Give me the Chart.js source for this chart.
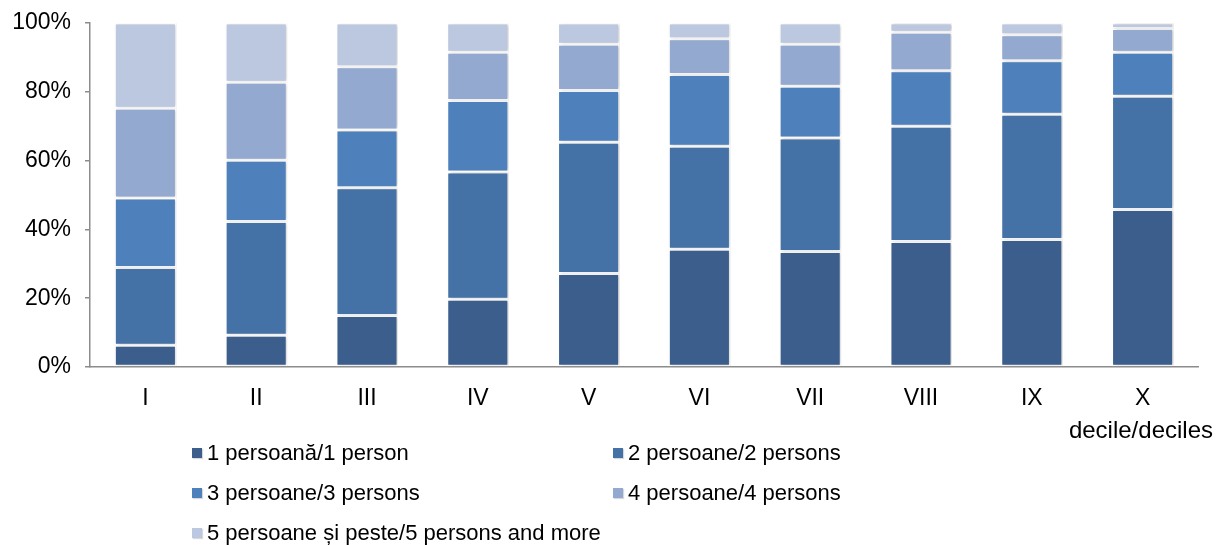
<!DOCTYPE html>
<html>
<head>
<meta charset="utf-8">
<script src="https://cdn.jsdelivr.net/npm/chart.js@4/dist/chart.umd.min.js"></script>
<style>
  html, body { margin: 0; padding: 0; background: #fff; }
  #wrap { position: relative; width: 1217px; height: 545px; font-family: Arial, 'Liberation Sans', sans-serif; }
  #chart { position: absolute; left: 0; top: 0; }
  .axis-title { position: absolute; right: 4px; top: 416px; font-size: 24px; line-height: 28px; color: #000; }
  .legend-item { position: absolute; font-size: 22px; color: #000; white-space: nowrap; line-height: 24px; }
  .legend-item i { display: inline-block; width: 10px; height: 10px; margin-right: 5px; vertical-align: 2px; box-shadow: 1px 1px 1px rgba(0,0,0,0.15); }
</style>
</head>
<body>
<div id="wrap">
  <canvas id="chart" width="1217" height="545"></canvas>
  <div class="axis-title">decile/deciles</div>
  <div id="legend"></div>
</div>
<script>
// decile categories
const deciles = ['I', 'II', 'III', 'IV', 'V', 'VI', 'VII', 'VIII', 'IX', 'X'];
const yTicks = [0, 20, 40, 60, 80, 100];

// share of households by size (%)
const onePerson   = [6.3, 9.2, 15.0, 19.7, 27.2, 34.2, 33.6, 36.5, 37.1, 45.8];
const twoPersons  = [22.6, 33.1, 37.1, 37.0, 38.1, 30.0, 33.0, 33.5, 36.4, 32.9];
const threePersons = [20.2, 17.8, 16.8, 20.8, 15.1, 20.8, 15.0, 16.1, 15.5, 12.8];
const fourPersons = [26.1, 22.7, 18.4, 14.0, 13.4, 10.4, 12.2, 11.2, 7.6, 6.9];
const fivePlus    = [24.8, 17.2, 12.7, 8.5, 6.2, 4.6, 6.2, 2.7, 3.4, 1.6];

const seriesLabels = [
    '1 persoană/1 person',
    '2 persoane/2 persons',
    '3 persoane/3 persons',
    '4 persoane/4 persons',
    '5 persoane și peste/5 persons and more'
];
const seriesColors = ['#3b5e8c', '#4472a6', '#4e80bc', '#94a9d0', '#bbc8e0'];
const seriesData = [onePerson, twoPersons, threePersons, fourPersons, fivePlus];

// legend positions (two columns, three rows)
const legendSlots = [[192, 441], [613, 441], [192, 481], [613, 481], [192, 521]];

const barShadow = {
    id: 'barShadow',
    beforeDatasetsDraw(chart) {
        const ctx = chart.ctx;
        ctx.save();
        ctx.shadowColor = 'rgba(0,0,0,0.22)';
        ctx.shadowBlur = 3;
        ctx.shadowOffsetX = 1.5;
        ctx.shadowOffsetY = 0;
    },
    afterDatasetsDraw(chart) {
        chart.ctx.restore();
    }
};

const tickFont = { family: 'Arial, "Liberation Sans"', size: 23 };

const ctx = document.getElementById('chart').getContext('2d');
new Chart(ctx, {
    type: 'bar',
    data: {
        labels: deciles,
        datasets: seriesData.map((d, i) => ({
            label: seriesLabels[i],
            data: d,
            backgroundColor: seriesColors[i],
            borderColor: '#ffffff',
            borderWidth: 1.5,
            borderSkipped: false,
            categoryPercentage: 1,
            barPercentage: 0.56
        }))
    },
    options: {
        responsive: false,
        animation: false,
        layout: { padding: { top: 23, right: 19, left: 0, bottom: 0 } },
        plugins: {
            legend: { display: false },
            tooltip: { enabled: false }
        },
        scales: {
            x: {
                stacked: true,
                grid: { display: false, drawTicks: false },
                border: { display: true, color: '#8c8c8c', width: 1.5 },
                ticks: { color: '#000', padding: 18, font: tickFont },
                afterFit: (scale) => { scale.height = 178; }
            },
            y: {
                stacked: true,
                min: 0,
                max: 100,
                afterBuildTicks: (scale) => { scale.ticks = yTicks.map(v => ({ value: v })); },
                grid: { drawOnChartArea: false, drawTicks: true, tickLength: 5, color: '#8c8c8c', lineWidth: 1.5 },
                border: { display: true, color: '#8c8c8c', width: 1.5 },
                ticks: {
                    color: '#000',
                    padding: 14,
                    font: tickFont,
                    callback: (v) => v + '%'
                },
                afterFit: (scale) => {
                    scale.width = 90;
                    scale.paddingTop = 0;
                    scale.paddingBottom = 0;
                }
            }
        }
    },
    plugins: [barShadow]
});

// html legend built from the series arrays
const legend = document.getElementById('legend');
legend.innerHTML = seriesLabels.map((label, i) => `
    <div class="legend-item" style="left:${legendSlots[i][0]}px; top:${legendSlots[i][1]}px">
        <i style="background:${seriesColors[i]}"></i>${label}
    </div>
`).join('');
</script>
</body>
</html>
